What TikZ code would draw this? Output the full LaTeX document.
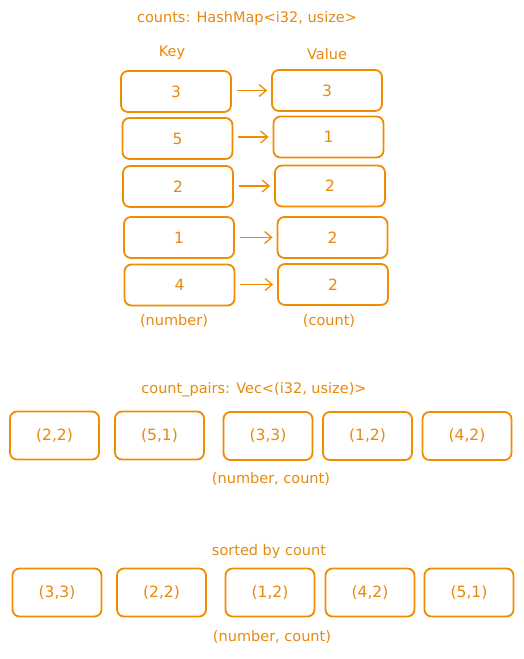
\documentclass[tikz,border=0pt]{standalone}
\usepackage{fontspec}
\setmainfont{DejaVu Sans}
\usetikzlibrary{arrows.meta}
\definecolor{ink}{HTML}{F08C00}
\definecolor{txt}{HTML}{E8890C}
\tikzset{
  cell/.style={draw=ink, line width=1.8pt, rounded corners=7pt, fill=white,
    text=txt, font=\fontsize{15.5}{18}\selectfont, inner sep=0pt},
  kv/.style={cell, minimum width=110pt, minimum height=41pt},
  pair/.style={cell, minimum width=89pt, minimum height=48pt},
  lbl/.style={text=txt, font=\fontsize{14.5}{17}\selectfont, inner sep=0pt},
  link/.style={draw=ink, line width=1.3pt, -{Straight Barb[length=7pt,width=12pt,line width=1.3pt]}},
}
\begin{document}
\begin{tikzpicture}[x=1pt,y=-1pt]
\useasboundingbox (0,0) rectangle (524,659);
\node[lbl] (t1) at (247,18) {counts: HashMap<i32, usize>};
\node[lbl] (key) at (172,53) {Key};
\node[lbl] (val) at (327,54) {Value};
% key boxes
\node[kv] (k1) at (176,91.5) {3};
\node[kv] (k2) at (177.5,138.5) {5};
\node[kv] (k3) at (178,186.5) {2};
\node[kv] (k4) at (179,237.5) {1};
\node[kv] (k5) at (179.5,285) {4};
% value boxes
\node[kv] (v1) at (327,90.5) {3};
\node[kv] (v2) at (328.5,137) {1};
\node[kv] (v3) at (330,186) {2};
\node[kv] (v4) at (332.5,237.5) {2};
\node[kv] (v5) at (333,284.5) {2};
\foreach \i in {1,...,5}{
  \draw[link] ([xshift=5pt]k\i.east |- v\i.west) -- ([xshift=-4pt]v\i.west);
}
\node[lbl] (num) at (174,321) {(number)};
\node[lbl] (cnt) at (329,321) {(count)};
% count pairs
\node[lbl] (t2) at (254,390) {count\_pairs: Vec<(i32, usize)>};
\node[pair] (p1) at (54.5,435.5) {(2,2)};
\node[pair] (p2) at (159.5,435.5) {(5,1)};
\node[pair] (p3) at (268,436) {(3,3)};
\node[pair] (p4) at (367.5,436) {(1,2)};
\node[pair] (p5) at (467,436) {(4,2)};
\node[lbl] (nc1) at (271,479) {(number, count)};
% sorted
\node[lbl] (t3) at (269,551) {sorted by count};
\node[pair] (s1) at (57,592.5) {(3,3)};
\node[pair] (s2) at (161.5,592.5) {(2,2)};
\node[pair] (s3) at (270,592.5) {(1,2)};
\node[pair] (s4) at (370,592.5) {(4,2)};
\node[pair] (s5) at (469,592.5) {(5,1)};
\node[lbl] (nc2) at (272,637) {(number, count)};
\end{tikzpicture}
\end{document}
